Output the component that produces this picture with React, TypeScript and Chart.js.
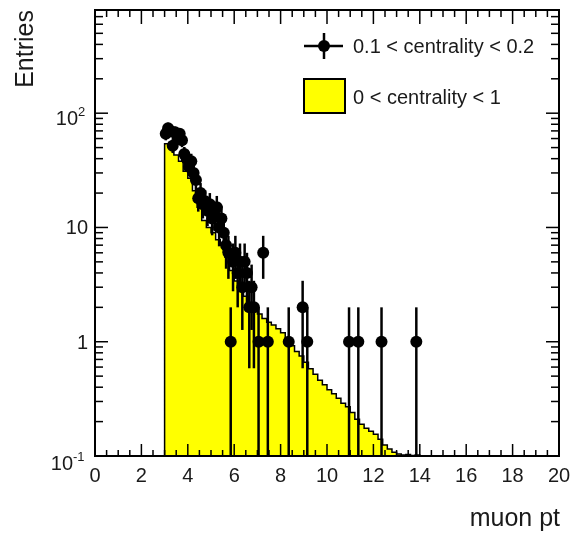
import React, { useEffect, useRef } from "react";
import { Chart, registerables } from "chart.js";

Chart.register(...registerables);

// Axis ranges
const X_MIN = 0;
const X_MAX = 20;
const Y_MIN = 0.1;
const Y_MAX = 800;

// Axis ticks and labels
const xTickValues = [0, 2, 4, 6, 8, 10, 12, 14, 16, 18, 20];
const xMinorStep = 0.5;
const yDecades = [0.1, 1, 10, 100];
const yDecadeBase = ["10", "1", "10", "10"];
const yDecadeExp = ["-1", "", "", "2"];

// Reference spectrum, 0 < centrality < 1 (normalised), 0.2 wide bins from 3.0
const refBinLow = 3.0;
const refBinWidth = 0.2;
const refHeights = [
  54, 50, 43, 38, 31, 27, 21, 15, 11.5, 10,
  9, 7.8, 7, 5.5, 4.2, 3.4, 2.9, 2.5, 2.2, 1.95,
  1.75, 1.6, 1.48, 1.4, 1.3, 1.2, 1.05, 0.92, 0.82, 0.75,
  0.66, 0.58, 0.52, 0.46, 0.42, 0.38, 0.35, 0.32, 0.29, 0.27,
  0.24, 0.21, 0.19, 0.175, 0.165, 0.155, 0.14, 0.125, 0.115, 0.108,
  0.104, 0.102, 0.103, 0.101, 0.102,
];

// Selected events, 0.1 < centrality < 0.2: bin centres and counts
const dataX = [
  3.05, 3.15, 3.25, 3.35, 3.45, 3.55, 3.65, 3.75, 3.85, 3.95,
  4.05, 4.15, 4.25, 4.35, 4.45, 4.55, 4.65, 4.75, 4.85, 4.95,
  5.05, 5.15, 5.25, 5.35, 5.45, 5.55, 5.65, 5.75, 5.85, 5.95,
  6.05, 6.15, 6.25, 6.35, 6.45, 6.55, 6.65, 6.75, 6.85, 7.05,
  7.25, 7.45, 8.35, 8.95, 9.15, 10.95, 11.35, 12.35, 13.85,
];
const dataN = [
  66, 74, 70, 52, 68, 62, 66, 58, 44, 40,
  34, 38, 30, 26, 18, 20, 16, 17, 14, 16,
  12, 13, 15, 10, 12, 9, 7, 6, 1, 5,
  6, 4, 5, 3, 5, 4, 2, 3, 2, 1,
  6, 1, 1, 2, 1, 1, 1, 1, 1,
];

const legendLabels = ["0.1 < centrality < 0.2", "0 < centrality < 1"];
const xTitle = "muon pt";
const yTitle = "Entries";

const FONT = '"Liberation Sans", Arial, Helvetica, sans-serif';
const INK = "#000";
const TEXT_INK = "#1a1a1a";
const FILL = "#ffff00";

function drawText(
  ctx: CanvasRenderingContext2D,
  s: string,
  x: number,
  y: number,
  size: number,
  align: CanvasTextAlign,
  rotate = 0
) {
  ctx.save();
  ctx.translate(x, y);
  if (rotate) ctx.rotate(rotate);
  ctx.font = `${size}px ${FONT}`;
  ctx.textAlign = align;
  ctx.textBaseline = "alphabetic";
  ctx.fillStyle = TEXT_INK;
  ctx.fillText(s, 0, 0);
  ctx.restore();
}

function line(ctx: CanvasRenderingContext2D, x1: number, y1: number, x2: number, y2: number) {
  ctx.beginPath();
  ctx.moveTo(x1, y1);
  ctx.lineTo(x2, y2);
  ctx.stroke();
}

// Vertical sqrt(N) error bars, clipped to the frame
const errorBars = {
  id: "errorBars",
  afterDatasetsDraw(chart: any) {
    const { ctx, chartArea: a, scales } = chart;
    const xs = scales.x;
    const ys = scales.y;
    ctx.save();
    ctx.beginPath();
    ctx.rect(a.left, a.top, a.right - a.left, a.bottom - a.top);
    ctx.clip();
    ctx.strokeStyle = INK;
    ctx.lineWidth = 2.5;
    dataX.forEach((xv, i) => {
      const n = dataN[i];
      const e = Math.sqrt(n);
      const px = xs.getPixelForValue(xv);
      const top = ys.getPixelForValue(n + e);
      const bot = n - e > 0 ? ys.getPixelForValue(n - e) : a.bottom;
      line(ctx, px, top, px, bot);
    });
    ctx.restore();
  },
};

// Frame, inward ticks on all sides, axis labels, titles and legend
const frame = {
  id: "frame",
  afterDraw(chart: any) {
    const { ctx, chartArea: a, scales } = chart;
    const xs = scales.x;
    const ys = scales.y;
    ctx.save();
    ctx.strokeStyle = INK;
    ctx.lineWidth = 1.5;

    // x ticks (bottom and top)
    for (let v = X_MIN; v <= X_MAX + 1e-9; v += xMinorStep) {
      const px = xs.getPixelForValue(v);
      const major = Math.abs(v / 2 - Math.round(v / 2)) < 1e-9;
      const lb = major ? 12 : 6;
      const lt = major ? 14 : 7;
      line(ctx, px, a.bottom, px, a.bottom - lb);
      line(ctx, px, a.top, px, a.top + lt);
    }
    // y ticks (left and right)
    yDecades.forEach((d) => {
      for (let k = 1; k <= 9; k++) {
        const v = d * k;
        if (v > Y_MAX * 1.0001) break;
        const py = ys.getPixelForValue(v);
        const len = k === 1 ? 13 : 8;
        line(ctx, a.left, py, a.left + len, py);
        line(ctx, a.right, py, a.right - len, py);
      }
    });

    // frame
    ctx.lineWidth = 2;
    ctx.strokeRect(a.left, a.top, a.right - a.left, a.bottom - a.top);

    // x tick labels
    xTickValues.forEach((v) => {
      drawText(ctx, String(v), xs.getPixelForValue(v), a.bottom + 26, 20, "center");
    });

    // y tick labels (powers of ten)
    yDecades.forEach((d, i) => {
      const py = ys.getPixelForValue(d);
      const base = yDecadeBase[i];
      const exp = yDecadeExp[i];
      if (!exp) {
        drawText(ctx, base, a.left - 7, py + 7, 20, "right");
      } else {
        const right = a.left - 7 - (exp.length > 1 ? 15 : 10);
        const shift = exp.length > 1 ? 14 : 12;
        drawText(ctx, base, right, py + shift, 20, "right");
        drawText(ctx, exp, right, py + shift - 9, 13, "left");
      }
    });

    // axis titles
    drawText(ctx, xTitle, a.right + 1, a.bottom + 70, 25, "right");
    drawText(ctx, yTitle, 33, a.top, 25, "right", -Math.PI / 2);

    // legend: data marker entry
    ctx.lineWidth = 2.5;
    line(ctx, 304, 46, 343, 46);
    line(ctx, 324, 33, 324, 59);
    ctx.fillStyle = INK;
    ctx.beginPath();
    ctx.arc(324, 46, 6, 0, Math.PI * 2);
    ctx.fill();
    drawText(ctx, legendLabels[0], 353, 53, 20, "left");

    // legend: filled histogram entry
    ctx.fillStyle = FILL;
    ctx.fillRect(304, 79, 41, 34);
    ctx.lineWidth = 2;
    ctx.strokeRect(304, 79, 41, 34);
    drawText(ctx, legendLabels[1], 353, 104, 20, "left");

    ctx.restore();
  },
};

export default function App() {
  const canvasRef = useRef<HTMLCanvasElement | null>(null);

  useEffect(() => {
    const canvas = canvasRef.current;
    if (!canvas) return;

    // step outline of the reference spectrum, closed down to the axis minimum
    const refPoints: { x: number; y: number }[] = [{ x: refBinLow, y: Y_MIN }];
    refHeights.forEach((h, i) => {
      refPoints.push({ x: refBinLow + i * refBinWidth, y: h });
    });
    const refEnd = refBinLow + refHeights.length * refBinWidth;
    refPoints.push({ x: refEnd, y: refHeights[refHeights.length - 1] });
    refPoints.push({ x: refEnd, y: Y_MIN });

    const chart = new Chart(canvas, {
      type: "scatter",
      data: {
        datasets: [
          {
            type: "scatter",
            label: legendLabels[0],
            data: dataX.map((x, i) => ({ x, y: dataN[i] })),
            pointRadius: 6,
            pointBackgroundColor: INK,
            pointBorderWidth: 0,
          } as any,
          {
            type: "line",
            label: legendLabels[1],
            data: refPoints,
            stepped: "before",
            fill: "start",
            backgroundColor: FILL,
            borderColor: INK,
            borderWidth: 1.5,
            pointRadius: 0,
            tension: 0,
          } as any,
        ],
      },
      options: {
        animation: false,
        responsive: false,
        devicePixelRatio: 1,
        events: [],
        layout: { padding: { left: 95, right: 12, top: 10, bottom: 80 } },
        plugins: { legend: { display: false }, tooltip: { enabled: false } },
        scales: {
          x: { type: "linear", min: X_MIN, max: X_MAX, display: false },
          y: { type: "logarithmic", min: Y_MIN, max: Y_MAX, display: false },
        },
      },
      plugins: [errorBars, frame],
    });

    return () => chart.destroy();
  }, []);

  return (
    <div style={{ position: "fixed", left: 0, top: 0, width: 571, height: 536, background: "#fff" }}>
      <canvas ref={canvasRef} width={571} height={536} style={{ width: 571, height: 536, display: "block" }} />
    </div>
  );
}
